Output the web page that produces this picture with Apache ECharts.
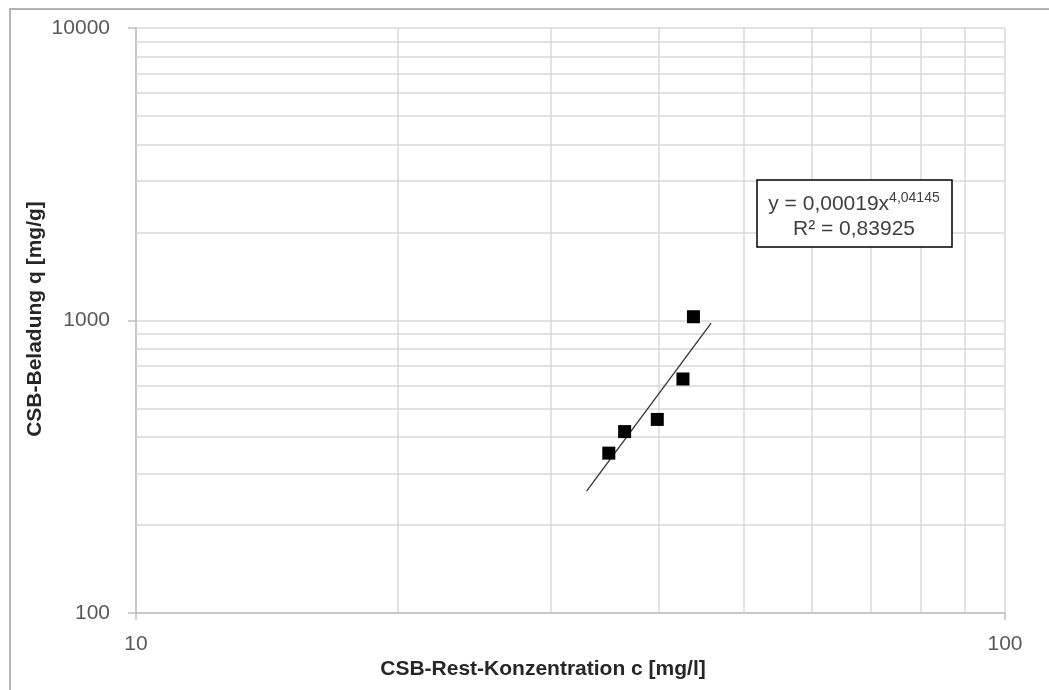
<!DOCTYPE html>
<html><head><meta charset="utf-8">
<script src="https://cdn.jsdelivr.net/npm/echarts@6/dist/echarts.min.js"></script>
<style>html,body{margin:0;padding:0;background:#fff}#c{width:1049px;height:690px}</style>
</head><body><div id="c"></div>
<script>
// Data
const concentration = [35.0, 36.5, 39.8, 42.6, 43.8];   // c [mg/l]
const loading = [352, 417, 459, 631, 1030];              // q [mg/g]
const trendX = [33.0, 45.9];                              // trendline ends (c)
const trendY = [261, 980];                                // trendline ends (q)
const xMinorGrid = [20, 30, 40, 50, 60, 70, 80, 90];
const yMinorGrid = [200, 300, 400, 500, 600, 700, 800, 900, 2000, 3000, 4000, 5000, 6000, 7000, 8000, 9000];
const xName = 'CSB-Rest-Konzentration c [mg/l]';
const yName = 'CSB-Beladung q [mg/g]';
const eqText = 'y = 0,00019x';
const eqExp = '4,04145';
const r2Text = 'R² = 0,83925';

const chart = echarts.init(document.getElementById('c'), null, {renderer: 'canvas'});
const gridColor = '#d9d9d9';
const labelFont = 'Liberation Sans, Arial, sans-serif';

chart.setOption({
  animation: false,
  backgroundColor: '#fff',
  grid: {left: 136, right: 44, top: 28, bottom: 77, containLabel: false},
  xAxis: {
    type: 'log', logBase: 10, min: 10, max: 100,
    axisLine: {show: true, lineStyle: {color: '#bfbfbf', width: 1.5}},
    axisTick: {show: true, length: 7, lineStyle: {color: '#bfbfbf', width: 1.5}},
    axisLabel: {color: '#595959', fontSize: 21, fontFamily: labelFont, margin: 21, formatter: v => String(v)},
    splitLine: {show: true, lineStyle: {color: gridColor, width: 1.5}},
    minorTick: {show: false}, minorSplitLine: {show: false}
  },
  yAxis: {
    type: 'log', logBase: 10, min: 100, max: 10000,
    axisLine: {show: true, lineStyle: {color: '#bfbfbf', width: 1.5}},
    axisTick: {show: true, length: 8, lineStyle: {color: '#bfbfbf', width: 1.5}},
    axisLabel: {color: '#595959', fontSize: 21, fontFamily: labelFont, margin: 26, formatter: v => String(v)},
    splitLine: {show: true, lineStyle: {color: gridColor, width: 1.5}},
    minorTick: {show: false}, minorSplitLine: {show: false}
  },
  series: [
    {
      type: 'line', data: [], z: 1, silent: true,
      markLine: {
        z: 1, silent: true, symbol: 'none', animation: false,
        label: {show: false},
        lineStyle: {color: gridColor, width: 1.5, type: 'solid'},
        emphasis: {disabled: true},
        data: xMinorGrid.map(v => ({xAxis: v})).concat(yMinorGrid.map(v => ({yAxis: v})))
      }
    },
    {
      type: 'line', z: 6, silent: true, symbol: 'none',
      data: trendX.map((x, i) => [x, trendY[i]]),
      lineStyle: {color: '#333', width: 1.3}
    },
    {
      type: 'scatter', z: 7, symbol: 'rect', symbolSize: 13,
      itemStyle: {color: '#000', opacity: 1},
      data: concentration.map((c, i) => [c, loading[i]])
    }
  ],
  graphic: [
    {type: 'rect', shape: {x: 10, y: 9, width: 1100, height: 800}, style: {fill: 'none', stroke: '#9a9a9a', lineWidth: 1.5}, z: 0, silent: true},
    {type: 'text', x: 543, y: 669, style: {text: xName, font: 'bold 21px ' + labelFont, fill: '#262626', align: 'center', verticalAlign: 'middle'}},
    {type: 'text', x: 35, y: 319, rotation: Math.PI / 2, style: {text: yName, font: 'bold 21px ' + labelFont, fill: '#262626', align: 'center', verticalAlign: 'middle'}},
    {type: 'rect', shape: {x: 757, y: 180, width: 195, height: 67}, style: {fill: '#fff', stroke: '#000', lineWidth: 1.5}, z: 10},
    {type: 'text', x: 854, y: 203, z: 11, style: {
      text: '{a|' + eqText + '}{s|' + eqExp + '}', align: 'center', verticalAlign: 'middle',
      rich: {
        a: {font: '21px ' + labelFont, fill: '#404040', verticalAlign: 'bottom'},
        s: {font: '14px ' + labelFont, fill: '#404040', verticalAlign: 'bottom', padding: [0, 0, 9, 0]}
      }
    }},
    {type: 'text', x: 854, y: 229, z: 11, style: {text: r2Text, font: '21px ' + labelFont, fill: '#404040', align: 'center', verticalAlign: 'middle'}}
  ]
});
</script></body></html>
